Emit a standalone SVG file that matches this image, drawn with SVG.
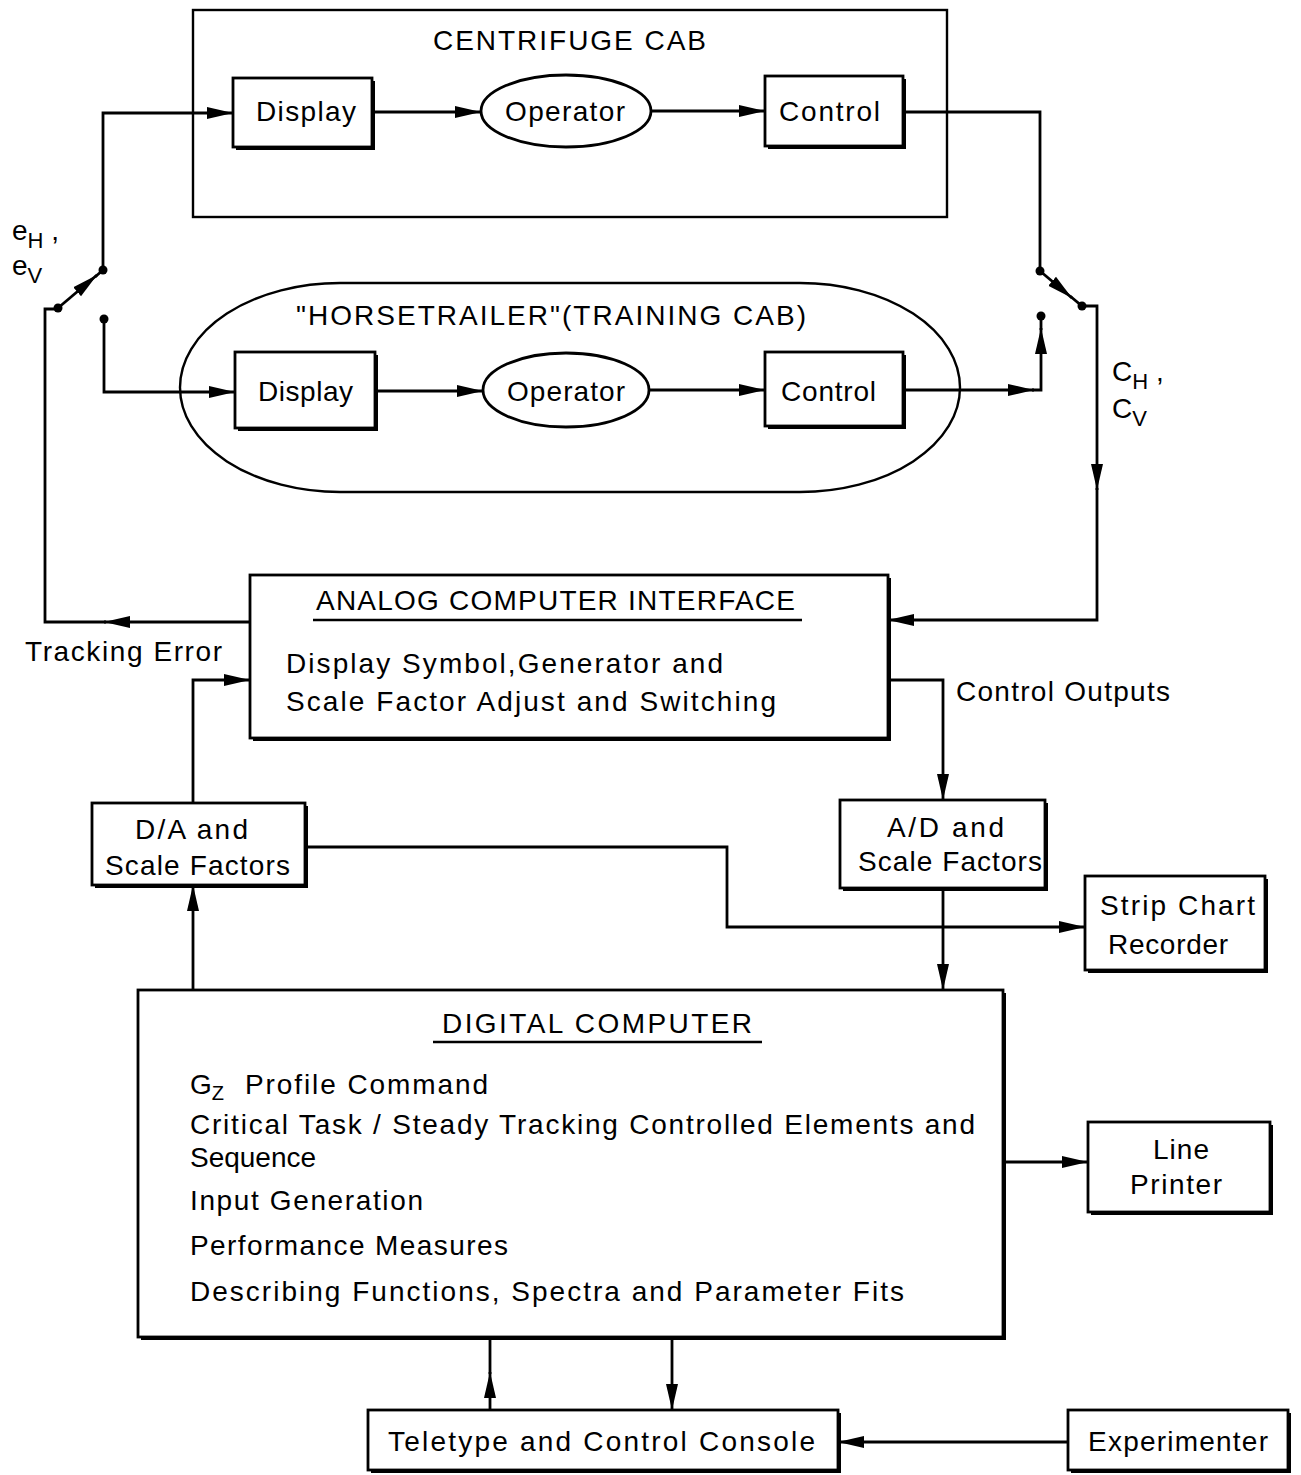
<svg xmlns="http://www.w3.org/2000/svg" width="1301" height="1475" viewBox="0 0 1301 1475">
<defs>
<style>
text{font-family:"Liberation Sans",Arial,sans-serif;font-size:28px;fill:#000}
.t{font-size:28px}
.box{fill:#fff;stroke:#000;stroke-width:2.8}
.sh{fill:#000}
.ln{fill:none;stroke:#000;stroke-width:2.8}
.thin{fill:none;stroke:#000;stroke-width:2.4}
.dot{fill:#000}
</style>
<marker id="arr" viewBox="0 0 26 14" refX="26" refY="7" markerWidth="26" markerHeight="14" orient="auto" markerUnits="userSpaceOnUse"><path d="M0,1 L26,7 L0,13 Z" fill="#000"/></marker>
</defs>
<rect width="1301" height="1475" fill="#fff"/>

<g id="centrifuge-cab">
<rect x="193" y="10" width="754" height="207" class="thin"/>
<text x="433" y="50" class="t" textLength="273" lengthAdjust="spacing">CENTRIFUGE CAB</text>
</g>
<g id="display-top">
<rect x="236" y="81" width="139" height="69" class="sh"/>
<rect x="233" y="78" width="139" height="69" class="box"/>
<text x="256" y="121" textLength="100" lengthAdjust="spacing">Display</text>
</g>
<g id="operator-top">
<ellipse cx="566" cy="111" rx="85" ry="36" class="box"/>
<text x="505" y="121" textLength="120" lengthAdjust="spacing">Operator</text>
</g>
<g id="control-top">
<rect x="768" y="79" width="138" height="70" class="sh"/>
<rect x="765" y="76" width="138" height="70" class="box"/>
<text x="779" y="121" textLength="101" lengthAdjust="spacing">Control</text>
</g>

<g id="horsetrailer">
<rect x="180" y="283" width="780" height="209" rx="160" ry="104.5" class="thin"/>
<text x="296" y="325" class="t" textLength="510" lengthAdjust="spacing">"HORSETRAILER"(TRAINING CAB)</text>
</g>
<g id="display-bottom">
<rect x="238" y="355" width="140" height="76" class="sh"/>
<rect x="235" y="352" width="140" height="76" class="box"/>
<text x="258" y="401" textLength="95" lengthAdjust="spacing">Display</text>
</g>
<g id="operator-bottom">
<ellipse cx="566" cy="390" rx="83" ry="37" class="box"/>
<text x="507" y="401" textLength="118" lengthAdjust="spacing">Operator</text>
</g>
<g id="control-bottom">
<rect x="768" y="355" width="138" height="74" class="sh"/>
<rect x="765" y="352" width="138" height="74" class="box"/>
<text x="781" y="401" textLength="95" lengthAdjust="spacing">Control</text>
</g>

<g id="labels">
<text x="12" y="240" font-size="30">e<tspan font-size="22" dy="8">H</tspan><tspan dy="-8"> ,</tspan></text>
<text x="12" y="275" font-size="30">e<tspan font-size="22" dy="8">V</tspan></text>
<text x="1112" y="381" font-size="30">C<tspan font-size="22" dy="8">H</tspan><tspan dy="-8"> ,</tspan></text>
<text x="1112" y="418" font-size="30">C<tspan font-size="22" dy="8">V</tspan></text>
<text x="25" y="661" textLength="197" lengthAdjust="spacing">Tracking Error</text>
<text x="956" y="701" textLength="214" lengthAdjust="spacing">Control Outputs</text>
</g>

<g id="analog-interface">
<rect x="253" y="578" width="638" height="163" class="sh"/>
<rect x="250" y="575" width="638" height="163" class="box"/>
<text x="316" y="610" textLength="479" lengthAdjust="spacing">ANALOG COMPUTER INTERFACE</text>
<line x1="313" y1="620" x2="802" y2="620" stroke="#000" stroke-width="2.4"/>
<text x="286" y="673" textLength="437" lengthAdjust="spacing">Display Symbol,Generator and</text>
<text x="286" y="711" textLength="490" lengthAdjust="spacing">Scale Factor Adjust and Switching</text>
</g>

<g id="da">
<rect x="95" y="806" width="213" height="82" class="sh"/>
<rect x="92" y="803" width="213" height="82" class="box"/>
<text x="135" y="839" textLength="113" lengthAdjust="spacing">D/A and</text>
<text x="105" y="875" textLength="185" lengthAdjust="spacing">Scale Factors</text>
</g>
<g id="ad">
<rect x="843" y="803" width="205" height="88" class="sh"/>
<rect x="840" y="800" width="205" height="88" class="box"/>
<text x="887" y="837" textLength="117" lengthAdjust="spacing">A/D and</text>
<text x="858" y="871" textLength="184" lengthAdjust="spacing">Scale Factors</text>
</g>
<g id="strip-chart">
<rect x="1088" y="879" width="180" height="94" class="sh"/>
<rect x="1085" y="876" width="180" height="94" class="box"/>
<text x="1100" y="915" textLength="155" lengthAdjust="spacing">Strip Chart</text>
<text x="1108" y="954" textLength="120" lengthAdjust="spacing">Recorder</text>
</g>

<g id="digital-computer">
<rect x="141" y="993" width="865" height="347" class="sh"/>
<rect x="138" y="990" width="865" height="347" class="box"/>
<text x="442" y="1033" textLength="310" lengthAdjust="spacing">DIGITAL COMPUTER</text>
<line x1="433" y1="1042" x2="762" y2="1042" stroke="#000" stroke-width="2.4"/>
<text x="190" y="1094">G<tspan font-size="20" dy="6">Z</tspan></text>
<text x="245" y="1094" textLength="243" lengthAdjust="spacing">Profile Command</text>
<text x="190" y="1134" textLength="785" lengthAdjust="spacing">Critical Task / Steady Tracking Controlled Elements and</text>
<text x="190" y="1167" textLength="126" lengthAdjust="spacing">Sequence</text>
<text x="190" y="1210" textLength="233" lengthAdjust="spacing">Input Generation</text>
<text x="190" y="1255" textLength="318" lengthAdjust="spacing">Performance Measures</text>
<text x="190" y="1301" textLength="714" lengthAdjust="spacing">Describing Functions, Spectra and Parameter Fits</text>
</g>

<g id="line-printer">
<rect x="1091" y="1125" width="182" height="90" class="sh"/>
<rect x="1088" y="1122" width="182" height="90" class="box"/>
<text x="1153" y="1159" textLength="56" lengthAdjust="spacing">Line</text>
<text x="1130" y="1194" textLength="92" lengthAdjust="spacing">Printer</text>
</g>
<g id="teletype">
<rect x="371" y="1413" width="470" height="60" class="sh"/>
<rect x="368" y="1410" width="470" height="60" class="box"/>
<text x="388" y="1451" textLength="427" lengthAdjust="spacing">Teletype and Control Console</text>
</g>
<g id="experimenter">
<rect x="1071" y="1413" width="220" height="60" class="sh"/>
<rect x="1068" y="1410" width="220" height="60" class="box"/>
<text x="1088" y="1451" textLength="180" lengthAdjust="spacing">Experimenter</text>
</g>

<g id="connectors">
<path class="ln" d="M103,270 V113 H233" marker-end="url(#arr)"/>
<path class="ln" d="M372,112 H481" marker-end="url(#arr)"/>
<path class="ln" d="M651,111 H765" marker-end="url(#arr)"/>
<path class="ln" d="M903,112 H1040 V271"/>
<path class="ln" d="M1040,271 L1072,298" marker-end="url(#arr)"/>
<path class="ln" d="M1070,296 L1082,306 H1097 V490" marker-end="url(#arr)"/>
<path class="ln" d="M1097,488 V620 H888" marker-end="url(#arr)"/>
<path class="ln" d="M903,390 H1034" marker-end="url(#arr)"/>
<path class="ln" d="M1032,390 H1041 V328" marker-end="url(#arr)"/>
<path class="ln" d="M1041,330 V316"/>
<path class="ln" d="M58,308 L97,275" marker-end="url(#arr)"/>
<path class="ln" d="M95,277 L103,270"/>
<path class="ln" d="M250,622 H104" marker-end="url(#arr)"/>
<path class="ln" d="M106,622 H45 V309 H58"/>
<path class="ln" d="M104,319 V392 H235" marker-end="url(#arr)"/>
<path class="ln" d="M375,391 H483" marker-end="url(#arr)"/>
<path class="ln" d="M649,390 H765" marker-end="url(#arr)"/>
<path class="ln" d="M193,803 V680 H250" marker-end="url(#arr)"/>
<path class="ln" d="M193,990 V885" marker-end="url(#arr)"/>
<path class="ln" d="M305,847 H727 V927 H1085" marker-end="url(#arr)"/>
<path class="ln" d="M888,680 H943 V800" marker-end="url(#arr)"/>
<path class="ln" d="M943,888 V990" marker-end="url(#arr)"/>
<path class="ln" d="M1003,1162 H1088" marker-end="url(#arr)"/>
<path class="ln" d="M490,1410 V1372" marker-end="url(#arr)"/>
<path class="ln" d="M490,1374 V1340"/>
<path class="ln" d="M672,1340 V1410" marker-end="url(#arr)"/>
<path class="ln" d="M1068,1442 H838" marker-end="url(#arr)"/>
<circle class="dot" cx="103" cy="270" r="4.5"/>
<circle class="dot" cx="58" cy="308" r="4.5"/>
<circle class="dot" cx="104" cy="319" r="4.5"/>
<circle class="dot" cx="1040" cy="271" r="4.5"/>
<circle class="dot" cx="1082" cy="306" r="4.5"/>
<circle class="dot" cx="1041" cy="316" r="4.5"/>
</g>
</svg>
